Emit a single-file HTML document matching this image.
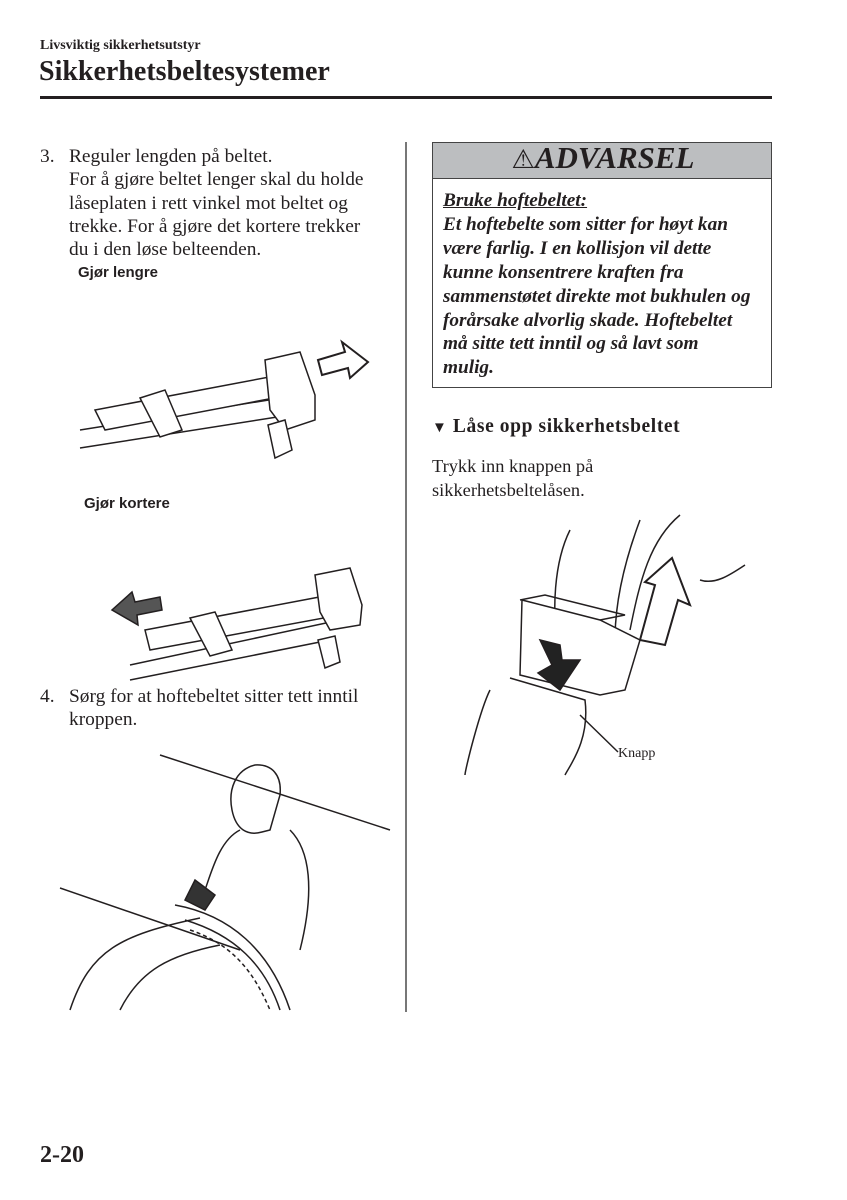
<!DOCTYPE html>
<html><head><meta charset="utf-8"><style>
body{margin:0;width:847px;height:1200px;background:#fff;position:relative;font-family:"Liberation Serif",serif;color:#231f20;overflow:hidden}
.a{position:absolute;white-space:nowrap}
.t{font-size:19.4px;line-height:23.3px}
.s{font-family:"Liberation Sans",sans-serif;font-weight:bold;font-size:15px}
</style></head><body>
<div class="a" style="left:40px;top:38px;font-size:14px;font-weight:bold">Livsviktig sikkerhetsutstyr</div>
<div class="a" style="left:39px;top:56px;font-size:28px;font-weight:bold">Sikkerhetsbeltesystemer</div>
<div class="a" style="left:40px;top:96px;width:732px;height:3px;background:#231f20"></div>
<div class="a" style="left:405px;top:142px;width:1.5px;height:870px;background:#777"></div>

<div class="a t" style="left:40px;top:145px">3.</div>
<div class="a t" style="left:69px;top:145px">Reguler lengden på beltet.<br>For å gjøre beltet lenger skal du holde<br>låseplaten i rett vinkel mot beltet og<br>trekke. For å gjøre det kortere trekker<br>du i den løse belteenden.</div>
<div class="a s" style="left:78px;top:264px">Gjør lengre</div>
<div class="a s" style="left:84px;top:495px">Gjør kortere</div>
<div class="a t" style="left:40px;top:685px">4.</div>
<div class="a t" style="left:69px;top:685px">Sørg for at hoftebeltet sitter tett inntil<br>kroppen.</div>

<svg class="a" style="left:0;top:0" width="847" height="1200" fill="none" stroke="#231f20" stroke-width="1.5">
<path d="M80 430 L300 395 M80 448 L290 415"/>
<path d="M95 410 L280 375 L290 395 L105 430 Z" fill="#fff"/>
<path d="M265 360 L300 352 L315 395 L315 420 L285 430 L270 410 Z" fill="#fff"/>
<path d="M140 398 L165 390 L182 430 L160 437 Z" fill="#fff"/>
<path d="M268 425 L285 420 L292 450 L275 458 Z" fill="#fff"/>
<path d="M318 360 L345 352 L342 342 L368 362 L350 378 L348 368 L322 375 Z" fill="#fff" stroke-width="2"/>
<path d="M130 665 L340 620 M130 680 L330 640"/>
<path d="M145 630 L330 595 L340 615 L150 650 Z" fill="#fff"/>
<path d="M315 575 L350 568 L362 605 L360 625 L330 630 L320 612 Z" fill="#fff"/>
<path d="M190 618 L215 612 L232 650 L210 656 Z" fill="#fff"/>
<path d="M318 640 L335 636 L340 662 L325 668 Z" fill="#fff"/>
<path d="M160 597 L135 602 L132 592 L112 610 L138 625 L137 615 L162 610 Z" fill="#555" stroke-width="1.5"/>
<path d="M160 755 L390 830 M60 888 L240 950"/>
<path d="M255 765 C235 770 228 790 232 810 C236 830 248 836 262 832 L270 830 L280 795 C282 775 272 764 255 765 Z"/>
<path d="M240 830 C220 840 212 870 205 890 M290 830 C310 850 315 890 300 950"/>
<path d="M70 1010 C90 950 120 935 200 918 M120 1010 C140 970 170 955 220 945"/>
<path d="M175 905 C230 915 270 950 290 1010 M185 920 C235 935 265 965 280 1010"/>
<path d="M190 930 C235 945 255 975 270 1010" stroke-dasharray="4 3"/>
<path d="M195 880 L215 895 L205 910 L185 900 Z" fill="#333"/>
<path d="M570 530 C555 560 550 610 560 660 M640 520 C625 560 615 600 615 640"/>
<path d="M680 515 C650 540 640 580 630 630"/>
<path d="M700 580 C715 585 730 575 745 565"/>
<path d="M522 600 L600 620 L640 640 L625 690 L600 695 L520 675 Z" fill="#fff"/>
<path d="M520 600 L545 595 L625 615 L600 620"/>
<path d="M540 640 L560 645 L562 660 L580 660 L560 690 L538 673 L552 665 Z" fill="#222"/>
<path d="M640 640 L655 585 L645 582 L672 558 L690 605 L678 600 L665 645 Z" fill="#fff" stroke-width="2"/>
<path d="M490 690 C480 710 465 770 465 775 M510 678 L585 700 C590 740 570 765 565 775"/>
<path d="M580 715 L618 752"/>
</svg>

<div class="a" style="left:432px;top:142px;width:338px;height:244px;border:1.5px solid #444"></div>
<div class="a" style="left:433px;top:143px;width:338px;height:35px;background:#bcbec0;border-bottom:1.5px solid #444"></div>
<div class="a" style="left:433px;top:140px;width:340px;text-align:center;font-size:31px;font-style:italic;font-weight:bold"><span style="font-size:26px;font-style:normal;font-weight:normal">⚠</span>ADVARSEL</div>
<div class="a" style="left:443px;top:189px;font-size:19.3px;line-height:23.9px;font-style:italic;font-weight:bold"><u>Bruke hoftebeltet:</u><br>Et hoftebelte som sitter for høyt kan<br>være farlig. I en kollisjon vil dette<br>kunne konsentrere kraften fra<br>sammenstøtet direkte mot bukhulen og<br>forårsake alvorlig skade. Hoftebeltet<br>må sitte tett inntil og så lavt som<br>mulig.</div>
<div class="a" style="left:432px;top:416px;font-size:19.5px;font-weight:bold;letter-spacing:0.6px"><span style="font-size:15px">▼</span> Låse opp sikkerhetsbeltet</div>
<div class="a" style="left:432px;top:455px;font-size:18.4px;line-height:23.5px">Trykk inn knappen på<br>sikkerhetsbeltelåsen.</div>
<div class="a" style="left:618px;top:746px;font-size:14px">Knapp</div>
<div class="a" style="left:40px;top:1142px;font-size:24px;font-weight:bold">2-20</div>
</body></html>
